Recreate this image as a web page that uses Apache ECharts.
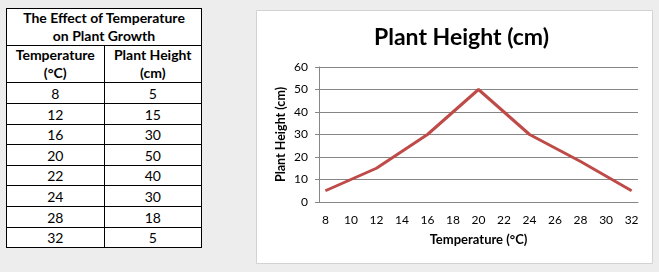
<!DOCTYPE html>
<html><head><meta charset="utf-8">
<script src="https://cdn.jsdelivr.net/npm/echarts@6/dist/echarts.min.js"></script>
<style>
html,body{margin:0;padding:0;background:#ededed;width:659px;height:272px;overflow:hidden;font-family:Lato,"Open Sans",sans-serif;}
#chart{position:absolute;left:0;top:0;width:659px;height:272px;}
table{position:absolute;left:6px;top:8px;border-collapse:collapse;background:#fff;z-index:2;}
td{border:1px solid #000;text-align:center;padding:0;font-size:14px;color:#000;line-height:17px;}
td.h{font-weight:bold;line-height:18px;}
</style></head><body>
<div id="chart"></div>
<table id="tbl"></table>
<script>
const tableTitle = ["The Effect of Temperature", "on Plant Growth"];
const colHeaders = [["Temperature", "(°C)"], ["Plant Height", "(cm)"]];
const temps = [8, 12, 16, 20, 22, 24, 28, 32];
const heights = [5, 15, 30, 50, 40, 30, 18, 5];
const xCategories = ["8","9","10","11","12","13","14","15","16","17","18","19","20","21","22","23","24","25","26","27","28","29","30","31","32"];
const chartTitle = "Plant Height (cm)";
const xName = "Temperature (°C)";
const yName = "Plant Height (cm)";

// build table
const rowH = [21, 21, 20, 21, 20, 21, 21, 20];
const tbl = document.getElementById('tbl');
let html = '<tr style="height:37px"><td class="h" colspan="2" style="width:194px">' + tableTitle.join('<br>') + '</td></tr>';
html += '<tr style="height:36px">' + colHeaders.map(c => '<td class="h" style="width:96px">' + c.join('<br>') + '</td>').join('') + '</tr>';
temps.forEach((t, i) => { html += '<tr style="height:' + rowH[i] + 'px"><td>' + t + '</td><td>' + heights[i] + '</td></tr>'; });
tbl.innerHTML = html;

// series on the category axis
const seriesData = xCategories.map(c => { const i = temps.indexOf(+c); return i >= 0 ? heights[i] : null; });

const chart = echarts.init(document.getElementById('chart'));
chart.setOption({
  animation: false,
  graphic: [{type:'rect', shape:{x:256.5, y:10.5, width:396, height:253}, style:{fill:'#fff', stroke:'#d2d2d2', lineWidth:1}, z:-10}],
  title: {text: chartTitle, left: 369, top: 21,
    textStyle: {fontFamily:'Lato', fontWeight:'bold', fontSize:23, color:'#000'}},
  grid: {left: 319, top: 67, width: 319, height: 135},
  xAxis: {type:'category', data: xCategories, boundaryGap: true,
    name: xName, nameLocation:'middle', nameGap: 31,
    nameTextStyle:{fontFamily:'Lato', fontWeight:'bold', fontSize:13, color:'#000'},
    axisLine:{lineStyle:{color:'#868686'}},
    axisTick:{interval:0, length:4, lineStyle:{color:'#868686'}},
    axisLabel:{interval:1, margin:12, fontFamily:'Lato', fontSize:12, color:'#000'}},
  yAxis: {type:'value', min:0, max:60, interval:10,
    name: yName, nameLocation:'middle', nameGap: 32, nameRotate: 90,
    nameTextStyle:{fontFamily:'Lato', fontWeight:'bold', fontSize:12.5, color:'#000'},
    axisLine:{show:true, lineStyle:{color:'#868686'}},
    axisTick:{show:true, length:4, lineStyle:{color:'#868686'}},
    splitLine:{lineStyle:{color:'#868686'}},
    axisLabel:{margin:11, fontFamily:'Lato', fontSize:12, color:'#000'}},
  series: [{type:'line', data: seriesData, connectNulls: true, symbol:'none',
    lineStyle:{color:'#be4b48', width:3}}]
});
</script>
</body></html>
